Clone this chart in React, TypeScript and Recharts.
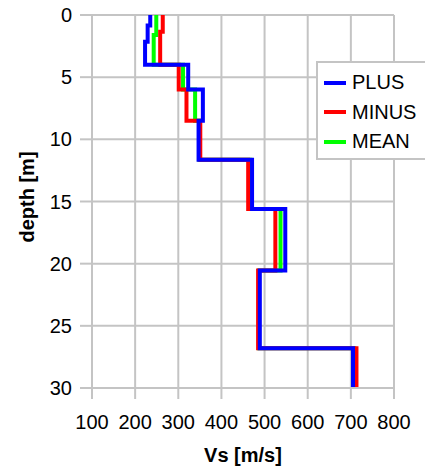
import React from 'react';
import { LineChart, Line, XAxis, YAxis, CartesianGrid, Legend, Label } from 'recharts';

// Layer boundaries (depth, m) and Vs values (m/s) per layer for each profile
const plusDepths = [0, 0.85, 2.15, 4, 6, 8.5, 11.65, 15.6, 20.55, 26.8, 30];
const plusVs = [235, 229, 223, 323, 357, 347, 471, 548, 489, 705];

const minusDepths = [0, 1.35, 4, 6, 8.5, 11.65, 15.6, 20.55, 26.8, 30];
const minusVs = [264, 258, 301, 319, 351, 462, 525, 485, 713];

const meanDepths = [0, 1.6, 4, 6, 8.5, 11.65, 15.6, 20.55, 26.8, 30];
const meanVs = [249, 243, 311, 339, 349, 467, 537, 487, 708];

const xTicks = [100, 200, 300, 400, 500, 600, 700, 800];
const yTicks = [0, 5, 10, 15, 20, 25, 30];

const stepProfile = (depths: number[], vs: number[]) => {
  const pts: { vs: number; depth: number }[] = [];
  vs.forEach((v, i) => {
    pts.push({ vs: v, depth: depths[i] });
    pts.push({ vs: v, depth: depths[i + 1] });
  });
  return pts;
};

const plusData = stepProfile(plusDepths, plusVs);
const minusData = stepProfile(minusDepths, minusVs);
const meanData = stepProfile(meanDepths, meanVs);

const legendItems = [
  { name: 'PLUS', color: '#0000ff' },
  { name: 'MINUS', color: '#ff0000' },
  { name: 'MEAN', color: '#00ff00' },
];

const FONT = '"Liberation Sans", Arial, sans-serif';
const GRID = '#c4c4c4';

const LegendBox = () => (
  <div
    style={{
      border: `2px solid ${GRID}`,
      background: '#fff',
      width: 120,
      height: 99,
      boxSizing: 'border-box',
      paddingTop: 5,
      fontFamily: FONT,
      fontSize: 20,
      color: '#000',
    }}
  >
    {legendItems.map((it) => (
      <div key={it.name} style={{ display: 'flex', alignItems: 'center', height: 29.5 }}>
        <div style={{ width: 22, height: 4, background: it.color, marginLeft: 6, marginRight: 6 }} />
        <span>{it.name}</span>
      </div>
    ))}
  </div>
);

export default function App() {
  return (
    <div style={{ position: 'absolute', left: 0, top: 0, width: 425, height: 468, overflow: 'hidden', background: '#fff' }}>
      <LineChart width={425} height={468} margin={{ top: 15, right: 31, bottom: 0, left: 0 }}>
        <CartesianGrid stroke={GRID} strokeWidth={2} />
        <XAxis
          type="number"
          dataKey="vs"
          domain={[100, 800]}
          ticks={xTicks}
          interval={0}
          height={80}
          tickSize={11}
          tickMargin={16}
          stroke={GRID}
          strokeWidth={2}
          tick={{ fill: '#000', fontSize: 20, fontFamily: FONT }}
        >
          <Label
            content={() => (
              <text x={243} y={461.5} textAnchor="middle" fontFamily={FONT} fontSize={20} fontWeight="bold" fill="#000">
                Vs [m/s]
              </text>
            )}
          />
        </XAxis>
        <YAxis
          type="number"
          domain={[0, 30]}
          reversed
          ticks={yTicks}
          interval={0}
          width={92}
          tickSize={12}
          tickMargin={8}
          stroke={GRID}
          strokeWidth={2}
          tick={{ fill: '#000', fontSize: 20, fontFamily: FONT }}
        >
          <Label
            content={() => (
              <text
                x={34}
                y={197}
                transform="rotate(-90 34 197)"
                textAnchor="middle"
                fontFamily={FONT}
                fontSize={20}
                fontWeight="bold"
                fill="#000"
              >
                depth [m]
              </text>
            )}
          />
        </YAxis>
        <Legend
          layout="vertical"
          align="center"
          verticalAlign="middle"
          content={() => <LegendBox />}
          wrapperStyle={{ left: 316, top: 61, width: 120 }}
        />
        <Line data={meanData} dataKey="depth" name="MEAN" type="linear" stroke="#00ff00" strokeWidth={4} dot={false} isAnimationActive={false} />
        <Line data={minusData} dataKey="depth" name="MINUS" type="linear" stroke="#ff0000" strokeWidth={4} dot={false} isAnimationActive={false} />
        <Line data={plusData} dataKey="depth" name="PLUS" type="linear" stroke="#0000ff" strokeWidth={4} dot={false} isAnimationActive={false} />
      </LineChart>
    </div>
  );
}
